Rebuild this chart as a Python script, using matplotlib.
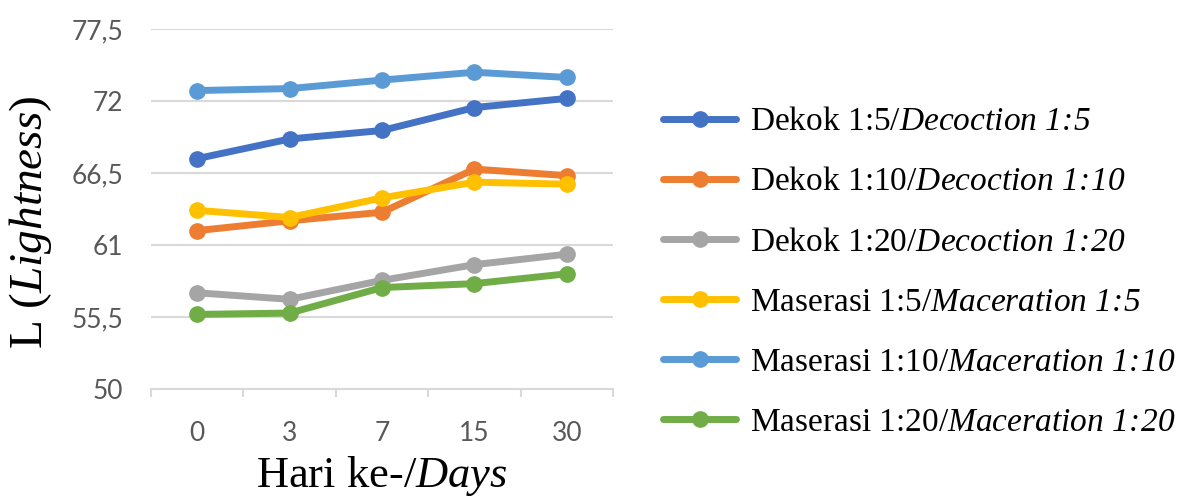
import numpy as np
import matplotlib
matplotlib.use('Agg')
import matplotlib.pyplot as plt

# serif text with italic parts drawn through mathtext \mathsf
plt.rcParams['mathtext.fontset'] = 'custom'
plt.rcParams['mathtext.rm'] = 'Liberation Serif'
plt.rcParams['mathtext.it'] = 'Liberation Serif:italic'
plt.rcParams['mathtext.sf'] = 'Liberation Serif:italic'

days = ['0', '3', '7', '15', '30']

dekok_5 = [67.6, 69.1, 69.75, 71.5, 72.2]
dekok_10 = [62.1, 62.85, 63.5, 66.8, 66.3]
dekok_20 = [57.35, 56.85, 58.3, 59.5, 60.3]
maserasi_5 = [63.65, 63.1, 64.6, 65.8, 65.65]
maserasi_10 = [72.8, 72.95, 73.6, 74.2, 73.8]
maserasi_20 = [55.7, 55.8, 57.75, 58.05, 58.8]

labels = [r'Dekok 1:5/$\mathsf{Decoction\ 1\!:\!5}$',
          r'Dekok 1:10/$\mathsf{Decoction\ 1\!:\!10}$',
          r'Dekok 1:20/$\mathsf{Decoction\ 1\!:\!20}$',
          r'Maserasi 1:5/$\mathsf{Maceration\ 1\!:\!5}$',
          r'Maserasi 1:10/$\mathsf{Maceration\ 1\!:\!10}$',
          r'Maserasi 1:20/$\mathsf{Maceration\ 1\!:\!20}$']
colors = ['#4472C4', '#ED7D31', '#A5A5A5', '#FFC000', '#5B9BD5', '#70AD47']
series = [dekok_5, dekok_10, dekok_20, maserasi_5, maserasi_10, maserasi_20]

yticks = [50, 55.5, 61, 66.5, 72, 77.5]
ytick_labels = ['50', '55,5', '61', '66,5', '72', '77,5']

fig = plt.figure(figsize=(11.89, 4.97), dpi=100)
ax = fig.add_axes([0.127, 0.2173, 0.3886, 0.7243])

x = np.arange(len(days))
for s, c, lab in zip(series, colors, labels):
    ax.plot(x, s, color=c, lw=5, marker='o', markersize=11, label=lab,
            solid_capstyle='round')

ax.set_xlim(-0.5, len(days) - 0.5)
ax.set_ylim(50, 77.5)
ax.set_yticks(yticks)
ax.set_yticklabels(ytick_labels)
ax.set_xticks(x)
ax.set_xticklabels(days)
ax.set_xticks(np.arange(-0.5, len(days)), minor=True)
ax.tick_params(axis='both', which='major', length=0, labelsize=19,
               labelcolor='#595959', labelfontfamily='Lato')
ax.tick_params(axis='y', pad=20)
ax.tick_params(axis='x', which='major', pad=23)
ax.tick_params(axis='x', which='minor', length=6, width=1.5, color='#D9D9D9')
ax.grid(axis='y', color='#D9D9D9', lw=1.5)
ax.set_axisbelow(True)
for sp in ['top', 'right', 'left']:
    ax.spines[sp].set_visible(False)
ax.spines['bottom'].set_color('#D9D9D9')
ax.spines['bottom'].set_linewidth(1.5)

xl = ax.set_xlabel(r'Hari ke-/$\mathsf{Days}$', fontsize=32, family='Liberation Serif')
xl.set_verticalalignment('baseline')
ax.xaxis.set_label_coords(0.5, -0.272)
ax.set_ylabel(r'L ($\mathsf{Lightness}$)', fontsize=34, family='Liberation Serif')
ax.yaxis.set_label_coords(-0.21, 0.464)

fig.legend(loc='center left', bbox_to_anchor=(0.5576, 0.452), bbox_transform=fig.transFigure,
           frameon=False, prop={'family': 'Liberation Serif', 'size': 24},
           handlelength=2.2, handletextpad=0.4, labelspacing=0.89, borderpad=0,
           borderaxespad=0)

fig.savefig('out.png', dpi=100)
